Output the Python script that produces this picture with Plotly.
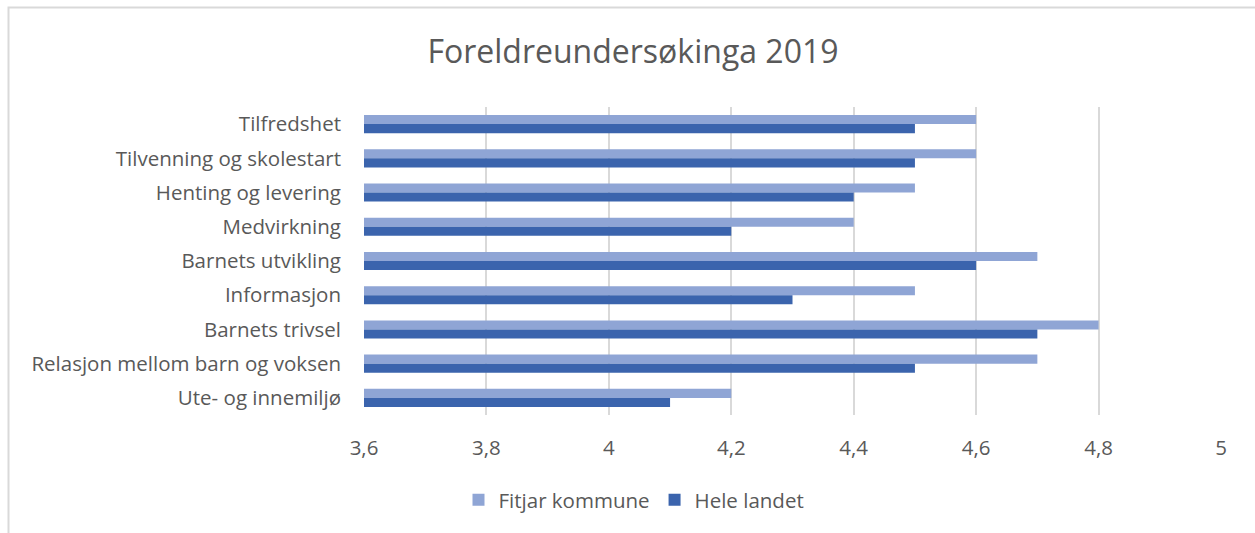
import plotly.graph_objects as go

categories = ["Tilfredshet", "Tilvenning og skolestart", "Henting og levering", "Medvirkning",
              "Barnets utvikling", "Informasjon", "Barnets trivsel",
              "Relasjon mellom barn og voksen", "Ute- og innemiljø"]
fitjar = [4.6, 4.6, 4.5, 4.4, 4.7, 4.5, 4.8, 4.7, 4.2]
hele_landet = [4.5, 4.5, 4.4, 4.2, 4.6, 4.3, 4.7, 4.5, 4.1]
x_ticks = [3.6, 3.8, 4.0, 4.2, 4.4, 4.6, 4.8, 5.0]

W, H = 1255, 533
L, R, T, B = 364, 34, 107, 118
pw, ph = W - L - R, H - T - B

def px(xp):
    return (xp - L) / pw

def py(yp):
    return (H - B - yp) / ph

FONT = "Open Sans"
GREY = "#595959"
FS = 20.5

fig = go.Figure()
fig.add_trace(go.Bar(y=categories, x=fitjar, orientation="h", name="Fitjar kommune",
                     marker=dict(color="#8FA5D5", line=dict(width=0)), base=0))
fig.add_trace(go.Bar(y=categories, x=hele_landet, orientation="h", name="Hele landet",
                     marker=dict(color="#3B64AD", line=dict(width=0)), base=0))

fig.update_layout(
    width=W, height=H,
    margin=dict(l=L, r=R, t=T, b=B, autoexpand=False),
    paper_bgcolor="white", plot_bgcolor="white",
    separators=", ",
    barmode="group", bargap=0.47, bargroupgap=0,
    font=dict(family=FONT, color=GREY, size=FS),
    title=dict(text="Foreldreundersøkinga 2019", x=633 / W, xref="container", xanchor="center",
               y=1 - 52 / H, yref="container", yanchor="middle",
               font=dict(family=FONT, size=32, color=GREY)),
    xaxis=dict(range=[3.6, 5.0], tickvals=x_ticks, showgrid=True, gridcolor="#D9D9D9", gridwidth=2,
               zeroline=False, showline=False, ticks="", ticklabelstandoff=18,
               tickfont=dict(size=FS, color=GREY)),
    yaxis=dict(autorange="reversed", showgrid=False, showline=False, ticks="",
               ticklabelstandoff=22, tickfont=dict(size=FS, color=GREY)),
    legend=dict(orientation="h", x=px(634), xanchor="center", y=py(500), yanchor="middle",
                traceorder="normal", font=dict(size=FS, color=GREY), itemwidth=30,
                bgcolor="rgba(0,0,0,0)"),
    showlegend=True,
)

fig.add_shape(type="rect", xref="paper", yref="paper",
              x0=px(8.5), x1=px(1300), y0=py(580), y1=py(7.5),
              line=dict(color="#D9D9D9", width=2), fillcolor="rgba(0,0,0,0)", layer="below")

fig.write_html("out.html", config={"displayModeBar": False},
               post_script="document.body.style.margin='0';document.body.style.padding='0';")
